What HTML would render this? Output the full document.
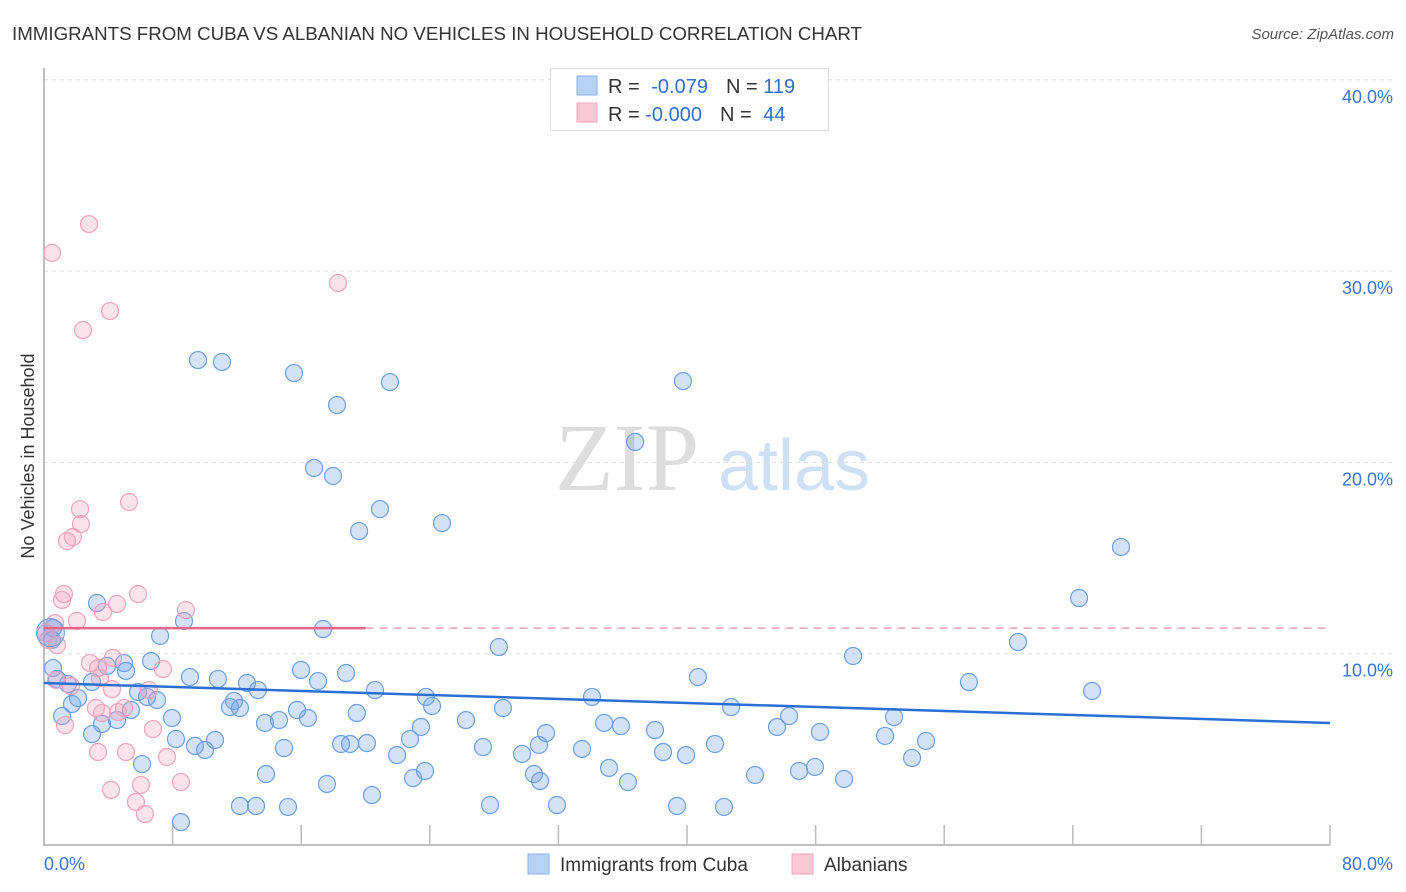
<!DOCTYPE html>
<html><head><meta charset="utf-8"><style>
body{margin:0;background:#fff;font-family:"Liberation Sans",sans-serif;}
#wrap{position:relative;width:1406px;height:892px;overflow:hidden}
</style></head><body>
<div id="wrap">
<svg id="svg" width="1406" height="892" xmlns="http://www.w3.org/2000/svg">
<text x="12" y="40" font-size="18" fill="#333" textLength="850" lengthAdjust="spacingAndGlyphs">IMMIGRANTS FROM CUBA VS ALBANIAN NO VEHICLES IN HOUSEHOLD CORRELATION CHART</text>
<text x="1394" y="39" font-size="15" fill="#555" font-style="italic" text-anchor="end">Source: ZipAtlas.com</text>
<text x="34" y="456" font-size="18" fill="#333" text-anchor="middle" transform="rotate(-90 34 456)">No Vehicles in Household</text>
<text x="555" y="490" font-size="96" fill="#ddd" font-family="Liberation Serif,serif">ZIP</text>
<text x="718" y="490" font-size="72" fill="#cfe0f5">atlas</text>
<g id="grid"></g><g id="marks"></g><g id="lines"></g>
<g>
<rect x="550.5" y="68.5" width="278" height="62" fill="#fff" stroke="#ddd"/>
<rect x="577" y="76" width="20" height="19" fill="#b8d2f5" stroke="#8ab2e8"/>
<rect x="577" y="103" width="20" height="19" fill="#fcc8d6" stroke="#f3a6bc"/>
<text x="608" y="93" font-size="20" fill="#333">R = <tspan fill="#2f6fd0" dx="6">-0.079</tspan><tspan dx="18" fill="#333">N = </tspan><tspan fill="#2f6fd0">119</tspan></text>
<text x="608" y="121" font-size="20" fill="#333">R = <tspan fill="#2f6fd0">-0.000</tspan><tspan dx="18" fill="#333">N = </tspan><tspan fill="#2f6fd0" dx="6">44</tspan></text>
</g>
<g>
<rect x="528" y="854" width="21" height="20" fill="#b8d2f5" stroke="#8ab2e8"/>
<text x="560" y="871" font-size="19" fill="#333">Immigrants from Cuba</text>
<rect x="792" y="854" width="21" height="20" fill="#fcc8d6" stroke="#f3a6bc"/>
<text x="824" y="871" font-size="19" fill="#333">Albanians</text>
</g>
</svg></div>
<script>
const xTicks=[0,8,16,24,32,40,48,56,64,72,80];
const yTicks=[10,20,30,40];
const yTickLabels=["10.0%","20.0%","30.0%","40.0%"];
const xEndLabels=["0.0%","80.0%"];
const cubaX=[9.58,11.07,15.55,18.23,21.52,39.75,36.77,16.8,17.98,20.9,19.6,24.76,67.0,64.39,3.3,8.71,7.22,17.36,60.59,28.3,50.33,0.56,0.5,0.56,0.81,1.49,4.98,6.66,5.1,3.92,9.08,15.99,17.05,18.79,10.82,12.63,2.99,2.12,1.74,5.85,6.41,13.31,20.59,40.68,57.54,65.2,11.82,12.19,23.76,24.14,34.09,28.55,42.74,11.57,15.74,16.42,19.46,1.12,7.96,3.61,4.54,5.41,7.03,13.75,14.62,23.45,26.25,34.84,35.89,38.01,45.6,46.35,52.88,48.27,52.32,54.87,2.99,8.21,10.64,14.93,9.39,10.02,18.48,19.04,20.09,22.77,27.31,31.23,30.79,29.74,33.47,38.51,39.94,41.74,21.96,54.0,6.1,13.81,22.96,23.7,30.48,30.86,35.15,36.33,44.23,46.97,47.96,49.77,17.6,20.4,12.19,13.19,15.18,27.75,31.91,39.38,42.3,8.52];
const cubaY=[25.35,25.25,24.67,23.0,24.2,24.25,21.07,19.71,19.29,17.56,16.41,16.83,15.58,12.91,12.65,11.71,10.93,11.29,10.61,10.35,9.88,11.34,10.72,9.25,8.68,8.42,9.51,9.62,9.1,9.36,8.78,9.15,8.57,8.99,8.68,8.47,8.52,7.68,7.37,8.0,7.74,8.1,8.1,8.78,8.52,8.05,7.53,7.16,7.74,7.27,7.74,7.16,7.21,7.21,7.06,6.64,6.9,6.74,6.64,6.33,6.53,7.06,7.58,6.38,6.53,6.17,6.53,6.38,6.22,6.01,6.17,6.74,6.69,5.91,5.7,5.44,5.8,5.54,5.49,5.07,5.18,4.97,5.28,5.28,5.33,5.54,5.12,5.85,5.23,4.76,5.02,4.86,4.7,5.28,4.7,4.55,4.23,3.71,3.5,3.87,3.71,3.35,4.03,3.29,3.66,3.87,4.08,3.45,3.19,2.61,2.04,2.04,1.99,2.09,2.09,2.04,1.99,1.2];
const albX=[0.5,2.8,2.43,4.11,18.29,5.29,2.24,2.3,1.8,1.43,1.24,1.12,5.85,4.54,3.67,8.83,2.05,0.12,0.25,0.81,4.29,2.86,3.36,7.4,0.75,1.68,4.23,4.98,3.23,3.61,4.6,1.31,6.78,3.36,5.1,7.65,8.52,4.17,6.03,5.72,6.28,3.48,6.53,0.68];
const albY=[30.95,32.46,26.92,27.91,29.38,17.93,17.56,16.78,16.1,15.89,13.12,12.81,13.12,12.6,12.18,12.28,11.71,11.08,10.72,10.45,9.78,9.51,9.25,9.2,8.63,8.31,8.15,7.16,7.16,6.9,6.95,6.27,6.06,4.86,4.86,4.6,3.29,2.88,3.14,2.25,1.62,8.73,8.1,11.6];
const bigX=[0.4];
const bigY=[11.1];
const cubaTrend=[8.47,6.38];
const albTrend=[11.34,11.34];
const albSolidEnd=20;
const NS="http://www.w3.org/2000/svg";
const X0=44,X1=1330,Y0=845,YPER=19.13;
const sx=v=>X0+(X1-X0)*v/80, sy=v=>Y0-v*YPER;
function mk(t,a,p){const e=document.createElementNS(NS,t);for(const k in a)e.setAttribute(k,a[k]);p.appendChild(e);return e;}
const grid=document.getElementById('grid'),marks=document.getElementById('marks'),lines=document.getElementById('lines');
yTicks.forEach((v,i)=>{
 const l=mk('line',{x1:X0,x2:1393,y1:sy(v),y2:sy(v),stroke:'#ddd','stroke-dasharray':'4,4'},grid);
 
 
 const t=mk('text',{x:1393,y:sy(v)+23,'font-size':18,fill:'#3a74d4','text-anchor':'end'},grid);t.textContent=yTickLabels[i];
 
 
});
const ax=mk('path',{d:`M${X0} 68V${Y0}H${X1}`,stroke:'#aaa',fill:'none','stroke-width':1.5},grid);


xTicks.forEach(v=>{if(v===0)return;const l=mk('line',{x1:sx(v),x2:sx(v),y1:Y0-20,y2:Y0,stroke:'#bbb','stroke-width':1.5},grid);
 
 });
[[0,'start',X0],[1,'end',1393]].forEach(([i,a,x])=>{const t=mk('text',{x:x,y:870,'font-size':18,fill:'#3a74d4','text-anchor':a},grid);t.textContent=xEndLabels[i];
 
 });
cubaX.forEach((v,i)=>{const c=mk('circle',{cx:sx(v),cy:sy(cubaY[i]),r:8.5,fill:'rgba(110,160,230,0.3)',stroke:'#6c9fe2','stroke-width':1.2},marks);
 
 });
albX.forEach((v,i)=>{const c=mk('circle',{cx:sx(v),cy:sy(albY[i]),r:8.5,fill:'rgba(245,160,185,0.3)',stroke:'#f0a3ba','stroke-width':1.2},marks);
 
 });
bigX.forEach((v,i)=>{const big=mk('circle',{cx:sx(v),cy:sy(bigY[i]),r:14,fill:'rgba(110,160,230,0.3)',stroke:'#6c9fe2'},marks);
 
 });
const tb=mk('line',{x1:sx(0),y1:sy(cubaTrend[0]),x2:sx(80),y2:sy(cubaTrend[1]),stroke:'#2a6fd6','stroke-width':2.5},lines);


const ya=v=>albTrend[0]+(albTrend[1]-albTrend[0])*v/80;
const tp=mk('line',{x1:sx(0),y1:sy(ya(0)),x2:sx(albSolidEnd),y2:sy(ya(albSolidEnd)),stroke:'#e8638a','stroke-width':2.5},lines);


const td=mk('line',{x1:sx(albSolidEnd),y1:sy(ya(albSolidEnd)),x2:sx(80),y2:sy(ya(80)),stroke:'#eaa0b5','stroke-width':1.5,'stroke-dasharray':'8,6'},lines);


</script>
</body></html>
